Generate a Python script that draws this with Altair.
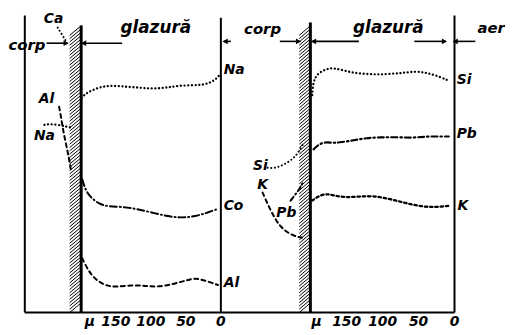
import altair as alt
import pandas as pd

# ---------------- data (distance from glaze surface in μ, relative content) -------------
# left diagram
na_glaze_mu = [199, 193, 184, 172, 160, 146, 132, 117, 103, 89, 75, 61, 42, 28, 14, 5, 1]
na_glaze_v = [71.6, 73.0, 74.1, 75.2, 75.6, 75.5, 75.2, 75.0, 74.7, 74.7, 75.1, 75.6, 75.8, 75.8, 76.7, 78.2, 79.5]
co_mu = [198, 193, 186, 174, 160, 141, 122, 99, 75, 56, 37, 18, 4]
co_v = [44.4, 40.6, 38.4, 36.2, 35.3, 35.3, 34.6, 33.4, 32.0, 31.6, 32.0, 33.4, 34.6]
al_mu = [198, 190, 179, 164, 150, 127, 108, 89, 66, 47, 37, 23, 4]
al_v = [18.1, 14.2, 10.9, 8.9, 8.5, 9.2, 8.9, 8.5, 9.6, 10.9, 11.5, 10.7, 9.2]
na_body_mu = [252, 245, 231, 221, 214]
na_body_v = [62.6, 62.8, 62.6, 62.0, 61.7]
al_body_mu = [231, 228, 225, 221, 217, 214]
al_body_v = [68.6, 64.8, 60.4, 56.0, 51.6, 47.2]
ca_body_mu = [233, 228, 222]
ca_body_v = [95.0, 93.1, 90.8]

# right diagram
si_mu = [198, 197, 194, 187, 177, 168, 155, 141, 118, 95, 72, 54, 40, 26, 10]
si_v = [72.5, 75.8, 78.5, 80.2, 81.3, 81.5, 80.8, 79.9, 79.4, 79.4, 79.9, 80.4, 80.0, 79.1, 77.5]
pb_mu = [196, 189, 180, 168, 157, 141, 122, 104, 81, 58, 40, 22, 8]
pb_v = [54.4, 56.0, 56.9, 56.5, 56.8, 57.4, 58.2, 58.4, 58.5, 58.2, 58.7, 58.7, 58.7]
k_mu = [198, 189, 177, 166, 152, 136, 118, 100, 81, 63, 44, 26, 8]
k_v = [37.3, 38.9, 39.7, 38.9, 38.4, 38.6, 38.9, 38.4, 37.3, 36.2, 35.3, 35.1, 35.6]
si_body_mu = [260, 251, 242, 233, 223, 216, 210]
si_body_v = [48.3, 48.1, 48.8, 49.9, 51.6, 53.8, 56.5]
k_body_mu = [267, 260, 251, 242, 230, 219, 212]
k_body_v = [40.0, 36.2, 31.8, 28.5, 26.3, 25.2, 25.0]
pb_body_mu = [228, 221, 214, 210]
pb_body_v = [37.3, 39.5, 41.7, 43.9]

tick_values = [0, 50, 100, 150]
tick_labels = ["0", "50", "100", "150"]

# labels: text, mu, v
left_labels_text = ["Na", "Co", "Al", "Ca", "Al", "Na"]
left_labels_mu = [-4, -4, -4, 239, 249, 252]
left_labels_v = [80.9, 35.6, 9.9, 97.7, 71.3, 58.7]
right_labels_text = ["Si", "Pb", "K", "Si", "K", "Pb"]
right_labels_mu = [-3, -3, -4, 270, 267, 234]
right_labels_v = [77.6, 59.4, 35.6, 48.8, 42.6, 33.3]

FONT = "DejaVu Sans"
YS = alt.Scale(domain=[0, 100], nice=False, zero=False)


def curve(mu, v, xsc, dash, width=2.0):
    df = pd.DataFrame({"mu": mu, "v": v, "i": list(range(len(mu)))})
    return alt.Chart(df).mark_line(
        interpolate="basis", strokeDash=dash, strokeWidth=width,
        color="black", strokeCap="round"
    ).encode(
        x=alt.X("mu:Q", scale=xsc, axis=None),
        y=alt.Y("v:Q", scale=YS, axis=None),
        order="i:O",
    )


def rules(mu, mu2, v, v2, xsc, width):
    df = pd.DataFrame({"mu": mu, "mu2": mu2, "v": v, "v2": v2})
    return alt.Chart(df).mark_rule(color="black", strokeWidth=width).encode(
        x=alt.X("mu:Q", scale=xsc, axis=None), x2="mu2:Q",
        y=alt.Y("v:Q", scale=YS, axis=None), y2="v2:Q",
    )


def texts(txt, mu, v, xsc, size, align="center"):
    df = pd.DataFrame({"t": txt, "mu": mu, "v": v})
    return alt.Chart(df).mark_text(
        font=FONT, fontSize=size, fontWeight="bold", fontStyle="italic",
        color="black", align=align, baseline="middle"
    ).encode(
        x=alt.X("mu:Q", scale=xsc, axis=None),
        y=alt.Y("v:Q", scale=YS, axis=None),
        text="t:N",
    )


def heads(mu, v, shape, xsc):
    df = pd.DataFrame({"mu": mu, "v": v})
    return alt.Chart(df).mark_point(
        shape=shape, filled=True, color="black", size=35, opacity=1
    ).encode(
        x=alt.X("mu:Q", scale=xsc, axis=None),
        y=alt.Y("v:Q", scale=YS, axis=None),
    )


def hatch(mu_left, mu_right, top, xsc):
    # decorative hatching of the interface band
    step, rise = 1.1, 3.3
    starts = []
    s = 0.0
    while s + rise <= top:
        starts.append(s)
        s += step
    return rules([mu_left] * len(starts), [mu_right] * len(starts),
                 starts, [a + rise for a in starts], xsc, 1.0)


def ticks(xsc):
    return texts(tick_labels, tick_values, [-3.2] * len(tick_values), xsc, 14)


# ---------------- left diagram ----------------
XL = alt.Scale(domain=[304, 0], nice=False, zero=False)
left = alt.layer(
    rules([280], [0], [0], [0], XL, 2),
    hatch(216, 199, 95.7, XL),
    rules([199.5], [199.5], [0], [95.7], XL, 3),
    rules([280, 0], [280, 0], [0, 0], [99, 98.3], XL, 2),
    curve(na_glaze_mu, na_glaze_v, XL, [0.1, 3.6], 2.3),
    curve(co_mu, co_v, XL, [7, 3, 1, 3], 2.0),
    curve(al_mu, al_v, XL, [4, 3.5], 2.0),
    curve(na_body_mu, na_body_v, XL, [0.1, 3.6], 2.3),
    curve(al_body_mu, al_body_v, XL, [4, 3.5], 2.0),
    curve(ca_body_mu, ca_body_v, XL, [0.1, 3.6], 2.0),
    texts(left_labels_text[:3], left_labels_mu[:3], left_labels_v[:3], XL, 14, "left"),
    texts(left_labels_text[3:], left_labels_mu[3:], left_labels_v[3:], XL, 14),
    texts(["corp"], [277], [89.1], XL, 15),
    texts(["glazură"], [93], [95.0], XL, 17),
    texts(["μ"], [187], [-3.2], XL, 14),
    ticks(XL),
    rules([249, 141], [219, 198], [89.8, 89.8], [89.8, 89.8], XL, 1.6),
    heads([221], [89.8], "triangle-right", XL),
    heads([196], [89.8], "triangle-left", XL),
).properties(width=215, height=303)

# ---------------- right diagram ----------------
XR = alt.Scale(domain=[325, 0], nice=False, zero=False)
right = alt.layer(
    rules([325], [0], [0], [0], XR, 2),
    hatch(216, 200, 96.7, XR),
    rules([200.5], [200.5], [0], [96.7], XR, 3),
    rules([0], [0], [0], [99], XR, 2),
    curve(si_mu, si_v, XR, [0.1, 3.6], 2.3),
    curve(pb_mu, pb_v, XR, [6, 3, 1.5, 3], 2.2),
    curve(k_mu, k_v, XR, [2.5, 2.8], 2.3),
    curve(si_body_mu, si_body_v, XR, [0.1, 3.6], 2.0),
    curve(k_body_mu, k_body_v, XR, [4, 3.5], 2.0),
    curve(pb_body_mu, pb_body_v, XR, [5, 3, 1, 3], 2.0),
    texts(right_labels_text[:3], right_labels_mu[:3], right_labels_v[:3], XR, 14, "left"),
    texts(right_labels_text[3:], right_labels_mu[3:], right_labels_v[3:], XR, 14),
    texts(["corp"], [267], [94.4], XR, 15),
    texts(["glazură"], [92], [95.0], XR, 17),
    texts(["aer"], [-51], [95.0], XR, 15),
    texts(["μ"], [192], [-3.2], XR, 14),
    ticks(XR),
    rules([311, 243, 133, 56, -29], [321, 215, 198, 12, 1],
          [90.4] * 5, [90.4] * 5, XR, 1.6),
    heads([319, 196, -1], [90.4] * 3, "triangle-left", XR),
    heads([217, 14], [90.4] * 2, "triangle-right", XR),
).properties(width=236, height=303)

chart = alt.hconcat(left, right, spacing=0, bounds="flush").properties(
    padding={"left": 0, "top": 2, "right": 0, "bottom": 0},
    background="white",
).configure_view(stroke=None)

chart.save("out.html", embed_options={"renderer": "svg", "actions": False})
